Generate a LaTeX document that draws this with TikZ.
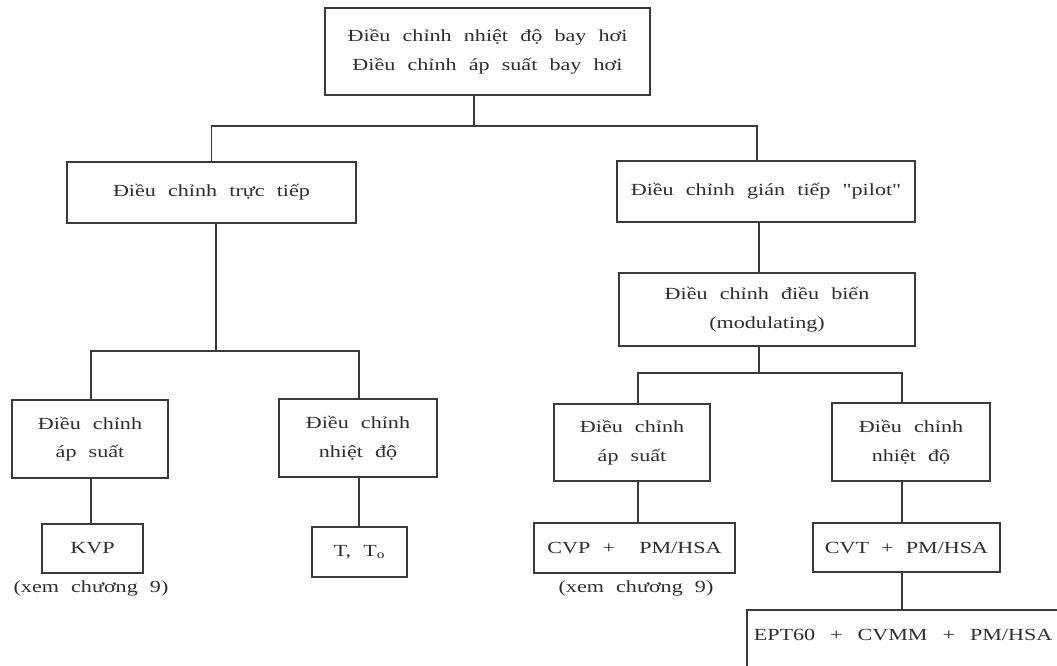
\documentclass[tikz,border=0pt]{standalone}
\usepackage{fontspec}
\setmainfont{Liberation Serif}[FakeStretch=1.3, WordSpace=2.2, Ligatures=TeXOff]
\definecolor{ink}{HTML}{2E2E2E}
\definecolor{linec}{HTML}{3A3A3A}
\begin{document}
\begin{tikzpicture}[x=1pt,y=-1pt,
  box/.style={draw=linec, line width=1.6pt, inner sep=0pt, align=center, text=ink,
    font=\fontsize{17}{28.5}\selectfont},
  note/.style={inner sep=0pt, text=ink, font=\fontsize{17}{28}\selectfont},
  conn/.style={draw=linec, line width=1.6pt}]
\useasboundingbox (0,0) rectangle (1057,666);
\fill[white] (0,0) rectangle (1057,666);
\clip (0,0) rectangle (1057,666);
% level 0
\node[box, minimum width=325, minimum height=87] (top) at (487.5,51.5)
  {Điều chỉnh nhiệt độ bay hơi\\Điều chỉnh áp suất bay hơi};
% level 1
\node[box, minimum width=289, minimum height=61] (direct) at (211.5,192.5) {Điều chỉnh trực tiếp};
\node[box, minimum width=298, minimum height=61] (indirect) at (766,191.5) {Điều chỉnh gián tiếp "pilot"};
% modulating
\node[box, minimum width=296, minimum height=73] (mod) at (767,309.5) {Điều chỉnh điều biến\\(modulating)};
% level 2
\node[box, minimum width=156, minimum height=78] (l1) at (90,439) {Điều chỉnh\\áp suất};
\node[box, minimum width=158, minimum height=78] (l2) at (358,438) {Điều chỉnh\\nhiệt độ};
\node[box, minimum width=156, minimum height=77] (r1) at (632,442.5) {Điều chỉnh\\áp suất};
\node[box, minimum width=158, minimum height=78] (r2) at (911,442) {Điều chỉnh\\nhiệt độ};
% level 3
\node[box, minimum width=101, minimum height=49] (kvp) at (92.5,548.5) {KVP};
\node[box, minimum width=95, minimum height=50] (tto) at (359.5,552) {T, T\textsubscript{o}};
\node[box, minimum width=201, minimum height=50] (cvp) at (634.5,548) {CVP + \ PM/HSA};
\node[box, minimum width=187, minimum height=49] (cvt) at (906.5,547.5) {CVT + PM/HSA};
\node[box, anchor=north west, inner xsep=7pt, inner ysep=0pt,
  text height=31pt, text depth=80pt] (ept) at (746,609)
  {\makebox[326pt][l]{EPT60 \,+\, CVMM \,+\, PM/HSA}};
% notes
\node[note] (n1) at (91,588) {(xem chương 9)};
\node[note] (n2) at (636,588) {(xem chương 9)};
% connectors
\coordinate (j1) at (474,126);
\coordinate (j2) at (759,373);
\coordinate (j3) at (216,351);
\draw[conn] (top.south -| j1) -- (j1);
\draw[conn] (direct.north) |- (j1) -| ([xshift=-9pt]indirect.north);
\draw[conn] (indirect.south -| j2) -- (mod.north -| j2);
\draw[conn] (mod.south -| j2) -- (j2);
\draw[conn] ([xshift=6pt]r1.north) |- (j2) -| ([xshift=-9pt]r2.north);
\draw[conn] (direct.south -| j3) -- (j3);
\draw[conn] ([xshift=1pt]l1.north) |- (j3) -| ([xshift=1pt]l2.north);
\draw[conn] ([xshift=1pt]l1.south) -- ([xshift=1pt]l1.south |- kvp.north);
\draw[conn] ([xshift=1pt]l2.south) -- ([xshift=1pt]l2.south |- tto.north);
\draw[conn] ([xshift=6pt]r1.south) -- ([xshift=6pt]r1.south |- cvp.north);
\draw[conn] ([xshift=-9pt]r2.south) -- ([xshift=-9pt]r2.south |- cvt.north);
\draw[conn] ([xshift=-9pt]r2.south |- cvt.south) -- ([xshift=-9pt]r2.south |- ept.north);
\end{tikzpicture}
\end{document}
